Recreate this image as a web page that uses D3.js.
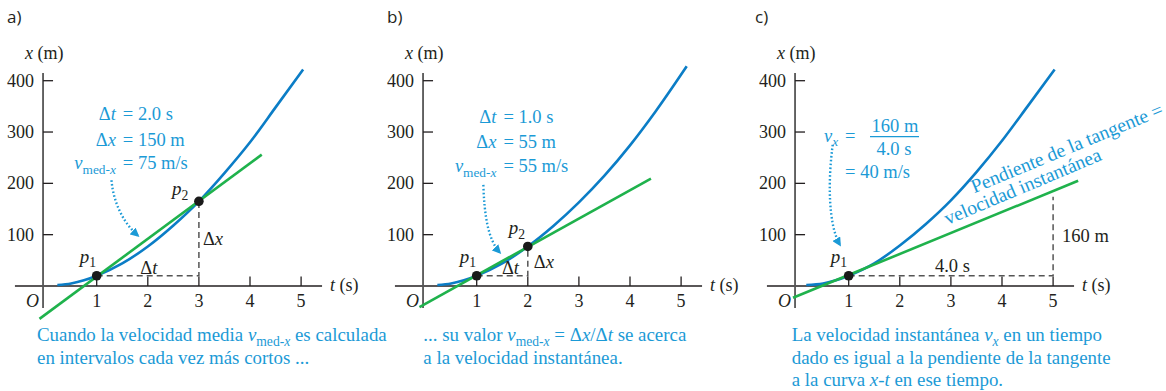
<!DOCTYPE html>
<html><head><meta charset="utf-8">
<script src="https://cdn.jsdelivr.net/npm/d3@7"></script>
<style>
html,body{margin:0;padding:0;background:#fff;}
svg{display:block;}
</style></head><body>
<svg id="chart" width="1166" height="391"></svg>
<script>
// ---------- data ----------
const panelLabels = ["a)", "b)", "c)"];
const tTicks = [1, 2, 3, 4, 5];
const xTicks = [100, 200, 300, 400];

// blue x-t curve
const curveT_a = [0.23, 0.5, 0.75, 1, 1.5, 2, 2.5, 3, 3.5, 4, 4.5, 5.04];
const curveX_a = [2, 5, 11, 20, 44, 77, 118, 165, 220, 280, 348, 422];
const curveT_b = [0.23, 0.5, 0.75, 1, 1.5, 2, 2.5, 3, 3.5, 4, 4.5, 5.11];
const curveX_b = [2, 5, 11, 20, 44, 77, 117, 163, 215, 274, 340, 428];
const curveT_c = [0.17, 0.5, 0.75, 1, 1.5, 2, 2.5, 3, 3.5, 4, 4.5, 5.03];
const curveX_c = [2, 5, 11, 20, 44, 79, 120, 167, 222, 283, 350, 422];

// green secant / tangent lines (end points)
const lineT_a = [-0.12, 4.23], lineX_a = [-64, 256];
const lineT_b = [-0.12, 4.41], lineX_b = [-41, 209];
const lineT_c = [-0.09, 5.49], lineX_c = [-23, 205];

// points p1, p2
const ptT_a = [1, 3], ptX_a = [20, 165];
const ptT_b = [1, 2], ptX_b = [20, 77];
const ptT_c = [1], ptX_c = [20];
const ptNames_a = ["1", "2"], ptNames_b = ["1", "2"], ptNames_c = ["1"];

// dashed guides
const guideT_a = [1, 3, 3], guideX_a = [20, 20, 165];
const guideT_b = [1, 2, 2], guideX_b = [20, 20, 77];
const guideT_c = [1, 5, 5], guideX_c = [20, 20, 174];

// ---------- styles ----------
const W = 1166, H = 391;
const SERIF = "'Liberation Serif','Times New Roman',serif";
const TXT_BLUE = "#1b9ad6", CURVE_BLUE = "#0b7dc6", GREEN = "#1fb24c", INK = "#231f20", AXIS = "#555";
const FS = 18.5;

const svg = d3.select("#chart");
svg.append("rect").attr("width", W).attr("height", H).attr("fill", "#fff");

const defs = svg.append("defs");
defs.append("marker").attr("id", "arr").attr("viewBox", "0 0 10 10")
  .attr("refX", 8).attr("refY", 5).attr("markerWidth", 9).attr("markerHeight", 9)
  .attr("markerUnits", "userSpaceOnUse").attr("orient", "auto")
  .append("path").attr("d", "M0,0 L10,5 L0,10 z").attr("fill", TXT_BLUE);

const xs = d3.scaleLinear().domain([0, 5]).range([45.6, 301.1]);
const ys = d3.scaleLinear().domain([0, 400]).range([286, 80.7]);

function rich(sel, segs, fs) {
  let inSub = false;
  segs.forEach(([txt, st]) => {
    const sub = st.includes("s");
    const ts = sel.append("tspan").text(txt);
    if (st.includes("i")) ts.attr("font-style", "italic");
    if (sub) ts.attr("font-size", fs * 0.72);
    if (sub && !inSub) ts.attr("dy", fs * 0.25);
    if (!sub && inSub) ts.attr("dy", -fs * 0.25);
    inSub = sub;
  });
}
function txt(g, x, y, segs, opts = {}) {
  const t = g.append("text").attr("x", x).attr("y", y)
    .attr("font-family", SERIF).attr("font-size", opts.fs || FS)
    .attr("fill", opts.fill || INK).attr("text-anchor", opts.anchor || "start")
    .attr("xml:space", "preserve");
  if (opts.transform) t.attr("transform", opts.transform);
  rich(t, segs, opts.fs || FS);
  return t;
}

const panels = [
  { off: 0, cT: curveT_a, cX: curveX_a, lT: lineT_a, lX: lineX_a, pT: ptT_a, pX: ptX_a, pN: ptNames_a, gT: guideT_a, gX: guideX_a },
  { off: 380, cT: curveT_b, cX: curveX_b, lT: lineT_b, lX: lineX_b, pT: ptT_b, pX: ptX_b, pN: ptNames_b, gT: guideT_b, gX: guideX_b },
  { off: 752, cT: curveT_c, cX: curveX_c, lT: lineT_c, lX: lineX_c, pT: ptT_c, pX: ptX_c, pN: ptNames_c, gT: guideT_c, gX: guideX_c }
];

const lineGen = d3.line().x(d => xs(d[0])).y(d => ys(d[1]));
const curveGen = d3.line().x(d => xs(d[0])).y(d => ys(d[1])).curve(d3.curveMonotoneX);

panels.forEach((p, i) => {
  const g = svg.append("g").attr("transform", `translate(${p.off},0)`);

  // panel label
  g.append("text").attr("x", i === 2 ? 3 : 7).attr("y", 23).text(panelLabels[i])
    .attr("font-family", "'Open Sans','Noto Sans',sans-serif").attr("font-size", 17).attr("fill", INK);

  // axes
  const yAxX = xs(-0.05);
  g.append("line").attr("x1", xs(-0.6)).attr("x2", xs(5.41)).attr("y1", ys(0)).attr("y2", ys(0))
    .attr("stroke", INK).attr("stroke-width", 1.4);
  g.append("line").attr("x1", yAxX).attr("x2", yAxX).attr("y1", ys(415)).attr("y2", ys(-43))
    .attr("stroke", AXIS).attr("stroke-width", 1.8);
  tTicks.forEach(t => {
    g.append("line").attr("x1", xs(t)).attr("x2", xs(t)).attr("y1", ys(0)).attr("y2", ys(0) - 9.5)
      .attr("stroke", INK).attr("stroke-width", 1.3);
    g.append("text").attr("x", xs(t)).attr("y", 307).attr("text-anchor", "middle")
      .attr("font-family", SERIF).attr("font-size", 18).attr("fill", INK).text(t);
  });
  xTicks.forEach(v => {
    g.append("line").attr("x1", yAxX).attr("x2", yAxX + 10).attr("y1", ys(v)).attr("y2", ys(v))
      .attr("stroke", INK).attr("stroke-width", 1.3);
    g.append("text").attr("x", 34).attr("y", ys(v) + 6).attr("text-anchor", "end")
      .attr("font-family", SERIF).attr("font-size", 18).attr("fill", INK).text(v);
  });
  txt(g, 39, 307, [["O", "i"]], { anchor: "end", fs: 18 });
  txt(g, 25, 59, [["x", "i"], [" (m)", ""]], { fs: 18 });
  txt(g, 330, 291, [["t", "i"], [" (s)", ""]], { fs: 18 });

  // dashed guide
  g.append("path").attr("d", lineGen(p.gT.map((t, k) => [t, p.gX[k]])))
    .attr("fill", "none").attr("stroke", AXIS).attr("stroke-width", 1.5).attr("stroke-dasharray", "6,4");

  // curve
  g.append("path").attr("d", curveGen(p.cT.map((t, k) => [t, p.cX[k]])))
    .attr("fill", "none").attr("stroke", CURVE_BLUE).attr("stroke-width", 2.6);
  // secant / tangent
  g.append("path").attr("d", lineGen(p.lT.map((t, k) => [t, p.lX[k]])))
    .attr("fill", "none").attr("stroke", GREEN).attr("stroke-width", 2.6);

  // points
  p.pT.forEach((t, k) => {
    g.append("circle").attr("cx", xs(t)).attr("cy", ys(p.pX[k])).attr("r", 4.8).attr("fill", "#1a1a1a");
  });
});

// ---------- annotations ----------
const gA = svg.append("g").attr("transform", "translate(0,0)");
const gB = svg.append("g").attr("transform", "translate(380,0)");
const gC = svg.append("g").attr("transform", "translate(752,0)");

function ptLabel(g, t, v, n, dx, dy) {
  txt(g, xs(t) + dx, ys(v) + dy, [["p", "i"], [n, "s"]], { fs: 19 });
}
ptLabel(gA, ptT_a[0], ptX_a[0], ptNames_a[0], -17, -13);
ptLabel(gA, ptT_a[1], ptX_a[1], ptNames_a[1], -27, -6);
ptLabel(gB, ptT_b[0], ptX_b[0], ptNames_b[0], -17, -13);
ptLabel(gB, ptT_b[1], ptX_b[1], ptNames_b[1], -19, -12);
ptLabel(gC, ptT_c[0], ptX_c[0], ptNames_c[0], -18, -13);

// Δ labels
txt(gA, xs(2.02), 273.5, [["Δ", ""], ["t", "i"]], { anchor: "middle" });
txt(gA, xs(3) + 4, ys(80), [["Δ", ""], ["x", "i"]]);
txt(gB, xs(1.66), 274, [["Δ", ""], ["t", "i"]], { anchor: "middle" });
txt(gB, xs(2) + 6, ys(36), [["Δ", ""], ["x", "i"]]);
txt(gC, xs(3.03), 271.5, [["4.0 s", ""]], { anchor: "middle" });
txt(gC, xs(5) + 9, ys(86), [["160 m", ""]]);

// blue equation blocks, aligned on "="
function eqBlock(g, eqT, rows) {
  rows.forEach(([v, lhs, rhs]) => {
    txt(g, xs(eqT) - 12, ys(v), lhs, { anchor: "end", fill: TXT_BLUE });
    txt(g, xs(eqT) - 5, ys(v), rhs, { fill: TXT_BLUE });
  });
}
eqBlock(gA, 1.61, [
  [323, [["Δ", ""], ["t", "i"]], [["= 2.0 s", ""]]],
  [273, [["Δ", ""], ["x", "i"]], [["= 150 m", ""]]],
  [228, [["v", "i"], ["med-", "s"], ["x", "si"]], [["= 75 m/s", ""]]]
]);
eqBlock(gB, 1.62, [
  [317, [["Δ", ""], ["t", "i"]], [["= 1.0 s", ""]]],
  [268, [["Δ", ""], ["x", "i"]], [["= 55 m", ""]]],
  [222, [["v", "i"], ["med-", "s"], ["x", "si"]], [["= 55 m/s", ""]]]
]);
// panel c fraction
txt(gC, xs(0.93) - 7, ys(281), [["v", "i"], ["x", "si"]], { anchor: "end", fill: TXT_BLUE });
txt(gC, xs(0.93), ys(281), [["=", ""]], { fill: TXT_BLUE });
gC.append("line").attr("x1", xs(1.417)).attr("x2", xs(2.376)).attr("y1", ys(291)).attr("y2", ys(291))
  .attr("stroke", TXT_BLUE).attr("stroke-width", 1.2);
txt(gC, xs(1.906), ys(300.6), [["160 m", ""]], { anchor: "middle", fill: TXT_BLUE });
txt(gC, xs(1.886), ys(255.2), [["4.0 s", ""]], { anchor: "middle", fill: TXT_BLUE });
txt(gC, xs(0.93), ys(209.8), [["= 40 m/s", ""]], { fill: TXT_BLUE });

// rotated label along tangent
txt(gC, xs(3.455), ys(180.6), [["Pendiente de la tangente =", ""]], { fill: TXT_BLUE, fs: 19.5, transform: `rotate(-22.5 ${xs(3.455)} ${ys(180.6)})` });
txt(gC, xs(2.935), ys(118.8), [["velocidad instantánea", ""]], { fill: TXT_BLUE, fs: 19.5, transform: `rotate(-22.8 ${xs(2.935)} ${ys(118.8)})` });

// dotted arrows (cubic paths in data coords)
function dotArrow(g, pts) {
  const P = pts.map(([t, v]) => [xs(t), ys(v)]);
  const path = d3.path();
  path.moveTo(...P[0]);
  path.bezierCurveTo(...P[1], ...P[2], ...P[3]);
  g.append("path").attr("d", path.toString()).attr("fill", "none").attr("stroke", TXT_BLUE)
    .attr("stroke-width", 2.4).attr("stroke-dasharray", "1.6,2.2").attr("marker-end", "url(#arr)");
}
dotArrow(gA, [[1.29, 206], [1.32, 167], [1.495, 125], [1.81, 98]]);
dotArrow(gB, [[1.13, 197], [1.15, 138], [1.22, 90], [1.455, 65]]);
dotArrow(gC, [[0.687, 275], [0.595, 207], [0.595, 119], [0.83, 80]]);

// captions
function caption(g, x, lines) {
  lines.forEach((segs, k) => txt(g, x, 341 + k * 22.5, segs, { fill: TXT_BLUE, fs: 18.9 }));
}
caption(gA, 37, [
  [["Cuando la velocidad media ", ""], ["v", "i"], ["med-", "s"], ["x", "si"], [" es calculada", ""]],
  [["en intervalos cada vez más cortos ...", ""]]
]);
caption(gB, 43.3, [
  [["... su valor ", ""], ["v", "i"], ["med-", "s"], ["x", "si"], [" = Δ", ""], ["x", "i"], ["/Δ", ""], ["t", "i"], [" se acerca", ""]],
  [["a la velocidad instantánea.", ""]]
]);
caption(gC, 39.7, [
  [["La velocidad instantánea ", ""], ["v", "i"], ["x", "si"], [" en un tiempo", ""]],
  [["dado es igual a la pendiente de la tangente", ""]],
  [["a la curva ", ""], ["x", "i"], ["-", ""], ["t", "i"], [" en ese tiempo.", ""]]
]);
</script>
</body></html>
